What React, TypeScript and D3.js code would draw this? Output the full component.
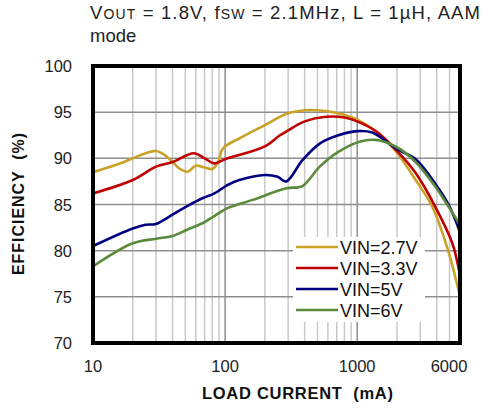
import React from "react";
import * as d3 from "d3";

// load current (mA) and efficiency (%)
const vin27X = [10, 15, 20, 25, 30, 35, 40, 45, 52, 60, 70, 80, 88, 94, 100, 130, 200, 290, 400, 500, 700, 1000, 1500, 2000, 2770, 3700, 4950, 6000];
const vin27Y = [88.5, 89.3, 90.0, 90.55, 90.8, 90.35, 89.6, 88.9, 88.55, 89.2, 89.0, 88.85, 89.5, 90.8, 91.3, 92.2, 93.6, 94.8, 95.2, 95.2, 94.9, 94.2, 92.5, 90.6, 87.65, 84.75, 79.7, 75.0];

const vin33X = [10, 20, 30, 40, 58, 70, 83, 100, 200, 260, 290, 400, 580, 820, 1000, 1400, 2000, 2770, 3900, 5250, 6000];
const vin33Y = [86.2, 87.65, 89.1, 89.6, 90.55, 90.0, 89.45, 89.9, 91.3, 92.5, 92.9, 94.0, 94.5, 94.4, 94.0, 92.9, 90.8, 88.4, 84.75, 80.8, 77.3];

const vin5X = [10, 20, 25, 30, 40, 52, 68, 83, 104, 128, 200, 250, 290, 385, 520, 720, 1000, 1300, 2000, 2770, 3920, 4950, 6000];
const vin5Y = [80.5, 82.4, 82.8, 82.9, 83.9, 84.85, 85.7, 86.2, 87.1, 87.65, 88.2, 88.0, 87.5, 89.8, 91.6, 92.5, 92.95, 92.8, 91.0, 89.9, 87.2, 84.9, 82.0];

const vin6X = [10, 20, 30, 40, 52, 68, 83, 104, 162, 290, 385, 520, 720, 1040, 1380, 2000, 2770, 3920, 4950, 6000];
const vin6Y = [78.3, 80.8, 81.3, 81.6, 82.3, 83.0, 83.75, 84.6, 85.5, 86.75, 87.0, 89.1, 90.7, 91.8, 92.0, 91.2, 89.6, 86.9, 84.7, 82.8];

const seriesNames = ["VIN=2.7V", "VIN=3.3V", "VIN=5V", "VIN=6V"];
const seriesColors = ["#c9a227", "#c00000", "#000080", "#5a8a3a"];
const seriesX = [vin27X, vin33X, vin5X, vin6X];
const seriesY = [vin27Y, vin33Y, vin5Y, vin6Y];

const yTicks = [70, 75, 80, 85, 90, 95, 100];
const xTickLabels = [10, 100, 1000, 6000];
const minorX = [20, 30, 40, 50, 60, 70, 80, 90, 200, 300, 400, 500, 600, 700, 800, 900, 2000, 3000, 4000, 5000];
const majorX = [100, 1000];

const font = "Arial, 'Liberation Sans', sans-serif";

export default function App() {
  const left = 93, right = 460, top = 66, bottom = 343;
  const x = d3.scaleLog().domain([10, 6000]).range([left, right]);
  const y = d3.scaleLinear().domain([70, 100]).range([bottom, top]);

  const line = d3
    .line<[number, number]>()
    .x((d) => x(d[0]))
    .y((d) => y(d[1]))
    .curve(d3.curveCatmullRom.alpha(0.5));

  return (
    <svg
      width={488}
      height={408}
      style={{ position: "absolute", left: 0, top: 0, background: "#fff" }}
      fontFamily={font}
    >
      {/* title */}
      <text x={90} y={18.5} fontSize={18.5} fill="#222" textLength={390} lengthAdjust="spacing">
        V<tspan fontSize={14}>OUT</tspan> = 1.8V, f<tspan fontSize={14}>SW</tspan> = 2.1MHz, L = 1µH, AAM
      </text>
      <text x={90} y={42} fontSize={18.5} fill="#222">
        mode
      </text>

      {/* grid */}
      {minorX.map((v) => (
        <line key={"mx" + v} x1={x(v)} x2={x(v)} y1={top} y2={bottom} stroke="#c8c8c8" strokeWidth={1.5} />
      ))}
      {majorX.map((v) => (
        <line key={"Mx" + v} x1={x(v)} x2={x(v)} y1={top} y2={bottom} stroke="#8e8e8e" strokeWidth={1.5} />
      ))}
      {yTicks.slice(1, -1).map((v) => (
        <line key={"gy" + v} x1={left} x2={right} y1={y(v)} y2={y(v)} stroke="#8e8e8e" strokeWidth={1.5} />
      ))}

      {/* legend background */}
      <rect x={293} y={237} width={132} height={85} fill="#fff" />

      {/* curves */}
      <defs>
        <clipPath id="plotclip">
          <rect x={left} y={top} width={right - left} height={bottom - top} />
        </clipPath>
      </defs>
      <g clipPath="url(#plotclip)">
        {seriesX.map((xs, i) => (
          <path
            key={seriesNames[i]}
            d={line(xs.map((v, j) => [v, seriesY[i][j]] as [number, number])) || ""}
            fill="none"
            stroke={seriesColors[i]}
            strokeWidth={2.6}
          />
        ))}
      </g>

      {/* frame */}
      <rect x={left} y={top} width={right - left} height={bottom - top} fill="none" stroke="#000" strokeWidth={4} />

      {/* y ticks */}
      {yTicks.map((v) => (
        <text key={"yt" + v} x={72} y={y(v) + 6} fontSize={16.5} textAnchor="end" fill="#222">
          {v}
        </text>
      ))}
      {/* x ticks */}
      {xTickLabels.map((v) => (
        <text
          key={"xt" + v}
          x={v === 6000 ? x(v) - 11 : x(v)}
          y={372}
          fontSize={16.5}
          textAnchor="middle"
          fill="#222"
        >
          {v}
        </text>
      ))}

      {/* axis titles */}
      <text
        x={202}
        y={399}
        fontSize={16.5}
        fontWeight="bold"
        fill="#111"
        textLength={191}
        lengthAdjust="spacing"
        style={{ whiteSpace: "pre" }}
      >
        {"LOAD CURRENT  (mA)"}
      </text>
      <text
        transform="translate(24,275) rotate(-90)"
        fontSize={16}
        fontWeight="bold"
        fill="#111"
        textLength={142}
        lengthAdjust="spacing"
        style={{ whiteSpace: "pre" }}
      >
        {"EFFICIENCY  (%)"}
      </text>

      {/* legend */}
      {seriesNames.map((name, i) => (
        <g key={"lg" + name} transform={`translate(0,${247 + i * 21})`}>
          <line x1={296} x2={338} y1={0} y2={0} stroke={seriesColors[i]} strokeWidth={2.6} />
          <text x={340} y={7} fontSize={18} fill="#111">
            {name}
          </text>
        </g>
      ))}
    </svg>
  );
}
